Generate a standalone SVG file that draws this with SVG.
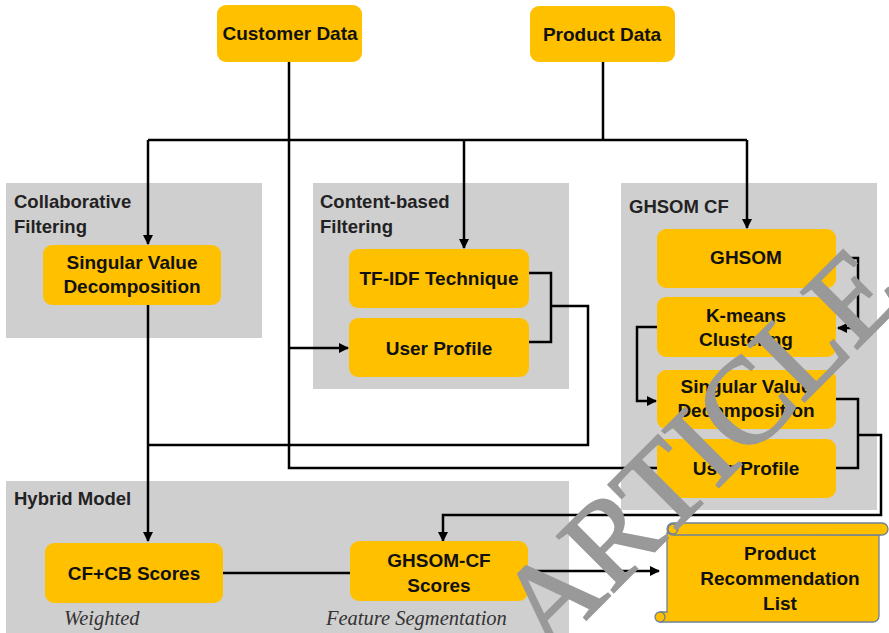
<svg xmlns="http://www.w3.org/2000/svg" width="889" height="633" viewBox="0 0 889 633">
  <style>
    .panel { fill: #D0CFD0; }
    .node { fill: #FFC000; }
    .t { font-family: "Liberation Sans", Arial, sans-serif; font-weight: bold; font-size: 19px; fill: #111; text-anchor: middle; }
    .pt { font-family: "Liberation Sans", Arial, sans-serif; font-weight: bold; font-size: 18.5px; fill: #222; }
    .it { font-family: "Liberation Serif", "Times New Roman", serif; font-style: italic; font-size: 20.5px; fill: #333; }
    .ln { fill: none; stroke: #000; stroke-width: 2.5; }
    .arr { fill: none; stroke: #000; stroke-width: 2.5; marker-end: url(#ah); }
    .wm { font-family: "Liberation Serif", "Times New Roman", serif; font-size: 122px; fill: #999; stroke: #999; stroke-width: 2; }
  </style>
  <defs>
    <marker id="ah" viewBox="0 0 10 10" refX="9" refY="5" markerWidth="4" markerHeight="4" markerUnits="strokeWidth" orient="auto">
      <path d="M0,0 L10,5 L0,10 Z" fill="#000"/>
    </marker>
  </defs>

  <!-- grey panels -->
  <g id="panel-cf">
    <rect class="panel" x="6" y="183" width="256" height="155"/>
    <text class="pt" x="14" y="208">Collaborative</text>
    <text class="pt" x="14" y="233">Filtering</text>
  </g>
  <g id="panel-cb">
    <rect class="panel" x="313" y="183" width="256" height="206"/>
    <text class="pt" x="320" y="208">Content-based</text>
    <text class="pt" x="320" y="233">Filtering</text>
  </g>
  <g id="panel-ghsom">
    <rect class="panel" x="621" y="183" width="256" height="327"/>
    <text class="pt" x="629" y="213">GHSOM CF</text>
  </g>
  <g id="panel-hybrid">
    <rect class="panel" x="6" y="481" width="563" height="152"/>
    <text class="pt" x="14" y="505">Hybrid Model</text>
  </g>

  <!-- connectors -->
  <g id="connectors">
    <path class="ln" d="M289,62 V468 H657"/>
    <path class="ln" d="M603,62 V140"/>
    <path class="ln" d="M148,140 H747"/>
    <path class="arr" d="M148,140 V244"/>
    <path class="arr" d="M464,140 V248"/>
    <path class="arr" d="M747,140 V228"/>
    <path class="arr" d="M289,348 H348"/>
    <path class="ln" d="M529,273 H551 V342 H529"/>
    <path class="ln" d="M551,306 H588 V445 H148"/>
    <path class="arr" d="M148,305 V541"/>
    <path class="arr" d="M836,258 H858 V328 H838"/>
    <path class="arr" d="M657,327 H637 V401 H656"/>
    <path class="ln" d="M836,399 H858 V468 H836"/>
    <path class="arr" d="M858,435 H881 V515 H443 V541"/>
    <path class="ln" d="M223,573 H350"/>
    <path class="arr" d="M528,571 H659"/>
  </g>

  <!-- nodes -->
  <g id="customer-data">
    <rect class="node" x="217" y="5" width="145" height="57" rx="9"/>
    <text class="t" x="290" y="40">Customer Data</text>
  </g>
  <g id="product-data">
    <rect class="node" x="530" y="6" width="145" height="56" rx="9"/>
    <text class="t" x="602" y="41">Product Data</text>
  </g>
  <g id="cf-svd">
    <rect class="node" x="43" y="245" width="178" height="60" rx="9"/>
    <text class="t" x="132" y="269">Singular Value</text>
    <text class="t" x="132" y="293">Decomposition</text>
  </g>
  <g id="cb-tfidf">
    <rect class="node" x="349" y="249" width="180" height="59" rx="9"/>
    <text class="t" x="439" y="285">TF-IDF Technique</text>
  </g>
  <g id="cb-user-profile">
    <rect class="node" x="349" y="318" width="180" height="59" rx="9"/>
    <text class="t" x="439" y="355">User Profile</text>
  </g>
  <g id="ghsom">
    <rect class="node" x="657" y="229" width="179" height="59" rx="9"/>
    <text class="t" x="746" y="264">GHSOM</text>
  </g>
  <g id="kmeans">
    <rect class="node" x="657" y="297" width="179" height="60" rx="9"/>
    <text class="t" x="746" y="322">K-means</text>
    <text class="t" x="746" y="346">Clustering</text>
  </g>
  <g id="ghsom-svd">
    <rect class="node" x="657" y="370" width="179" height="59" rx="9"/>
    <text class="t" x="746" y="393">Singular Value</text>
    <text class="t" x="746" y="417">Decomposition</text>
  </g>
  <g id="ghsom-user-profile">
    <rect class="node" x="657" y="439" width="179" height="59" rx="9"/>
    <text class="t" x="746" y="475">User Profile</text>
  </g>
  <g id="cfcb-scores">
    <rect class="node" x="45" y="543" width="178" height="60" rx="9"/>
    <text class="t" x="134" y="580">CF+CB Scores</text>
    <text class="it" x="64" y="625">Weighted</text>
  </g>
  <g id="ghsomcf-scores">
    <rect class="node" x="350" y="541" width="178" height="60" rx="9"/>
    <text class="t" x="439" y="567">GHSOM-CF</text>
    <text class="t" x="439" y="592">Scores</text>
    <text class="it" x="326" y="625">Feature Segmentation</text>
  </g>
  <g id="recommendation-list">
    <path d="M667,533 V612 H660 A7,7 0 0 0 660,622 H873 A6,6 0 0 0 879,616 V535 Z" fill="#FFC000" stroke="#6f8196" stroke-width="1.3"/>
    <rect x="667" y="523" width="221" height="12" rx="6" fill="#FFC000" stroke="#6f8196" stroke-width="1.3"/>
    <circle cx="673" cy="529" r="5" fill="#FFC000" stroke="#6f8196" stroke-width="1.3"/>
    <circle cx="660" cy="617" r="5" fill="#FFC000" stroke="#6f8196" stroke-width="1.3"/>
    <text class="t" x="780" y="560">Product</text>
    <text class="t" x="780" y="585">Recommendation</text>
    <text class="t" x="780" y="610">List</text>
  </g>

  <!-- stamp across the page -->
  <text class="wm" x="0" y="0" text-anchor="middle" transform="translate(728,478) rotate(-45)">ARTICLE</text>
</svg>
